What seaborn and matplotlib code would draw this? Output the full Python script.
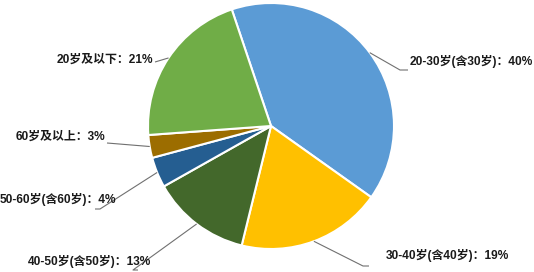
import numpy as np
import matplotlib
matplotlib.use("Agg")
import matplotlib.pyplot as plt
import seaborn as sns

# ==========================================================
# Data
# ==========================================================
categories = ["20-30岁(含30岁)", "30-40岁(含40岁)", "40-50岁(含50岁)",
              "50-60岁(含60岁)", "60岁及以上", "20岁及以下"]
shares = [40, 19, 13, 4, 3, 21]
colors = ["#5B9BD5", "#FFC000", "#43682B", "#255E91", "#9C6D00", "#70AD47"]

# label layout in pixel coords of the 534x272 image:
# (text x, text y, ha, elbow x, elbow y, end x)
label_layout = [
    (410, 62, "left", 400, 70, 408),
    (386, 255, "left", 363, 266, 369),
    (90, 262, "center", 133, 270, 138),
    (116, 200, "right", 100, 209, 95),
    (105, 137, "right", 107, 143, 107),
    (153, 60, "right", 155, 62, 155),
]

# ==========================================================
# Figure
# ==========================================================
sns.set_theme(style="white")
plt.rcParams["font.family"] = ["Liberation Sans", "Noto Sans CJK SC", "DejaVu Sans"]

W, H = 534, 272
cx, cy, R = 271, 126, 123  # pie centre / radius in pixels

fig = plt.figure(figsize=(W / 100, H / 100), dpi=100)
ax = fig.add_axes([0, 0, 1, 1])


def px(x, y):
    return (x - cx) / R, (cy - y) / R


start = 108.6
wedges, _ = ax.pie(shares, colors=colors, startangle=start, counterclock=False,
                   radius=1, center=(0, 0), frame=True,
                   wedgeprops=dict(edgecolor="white", linewidth=1.5))
ax.set_xlim(-cx / R, (W - cx) / R)
ax.set_ylim(-(H - cy) / R, cy / R)
ax.axis("off")

for w, cat, val, lay in zip(wedges, categories, shares, label_layout):
    mid = np.deg2rad((w.theta1 + w.theta2) / 2)
    x0, y0 = np.cos(mid), np.sin(mid)
    tx, ty, ha, ex, ey, endx = lay
    ex, ey = px(ex, ey)
    endx, _ = px(endx, 0)
    ax.plot([x0, ex, endx], [y0, ey, ey], color="#707070", lw=0.8,
            solid_capstyle="butt")
    tx, ty = px(tx, ty)
    ax.text(tx, ty, f"{cat}：{val}%", ha=ha, va="center", fontsize=8.6,
            fontweight="bold", color="#1A1A1A")

fig.savefig("out.png", dpi=100, facecolor="white")
